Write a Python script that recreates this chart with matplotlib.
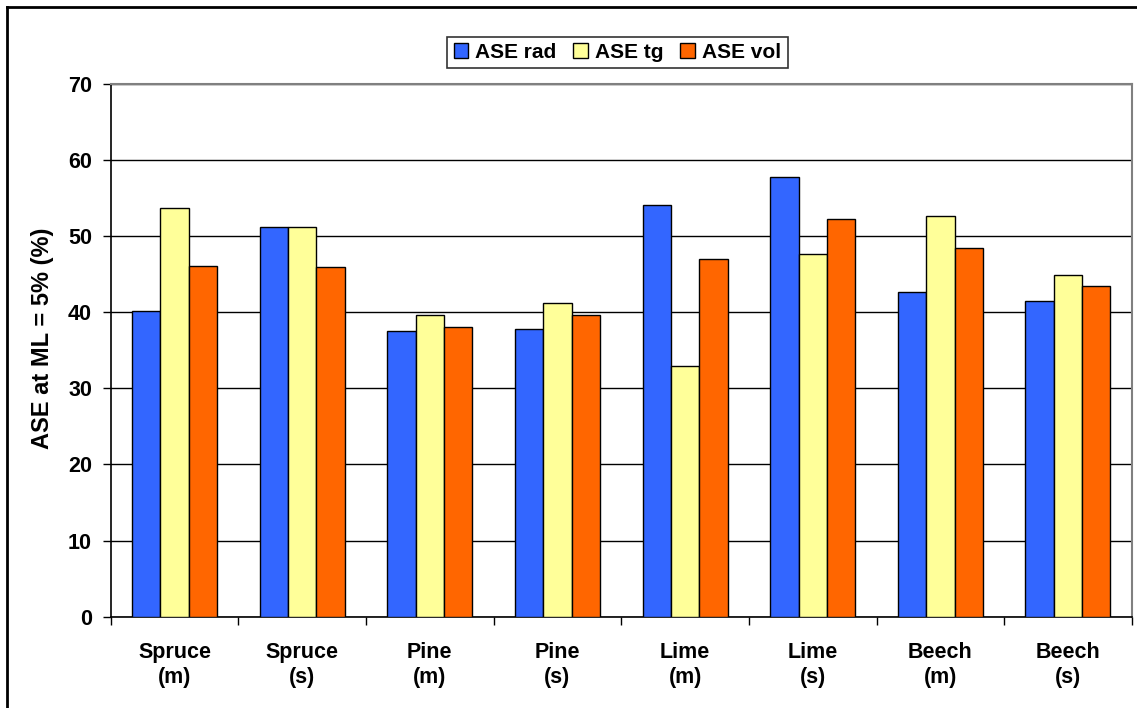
import numpy as np
import matplotlib
matplotlib.use("Agg")
import matplotlib.pyplot as plt
from matplotlib.lines import Line2D

plt.rcParams['font.family'] = ['Liberation Sans', 'DejaVu Sans']
plt.rcParams['font.weight'] = 'bold'

categories = ["Spruce\n(m)", "Spruce\n(s)", "Pine\n(m)", "Pine\n(s)",
              "Lime\n(m)", "Lime\n(s)", "Beech\n(m)", "Beech\n(s)"]
ase_rad = [40.2, 51.2, 37.5, 37.8, 54.1, 57.7, 42.7, 41.4]
ase_tg = [53.7, 51.2, 39.6, 41.2, 32.9, 47.6, 52.6, 44.9]
ase_vol = [46.1, 45.9, 38.0, 39.6, 47.0, 52.2, 48.4, 43.4]

series = [("ASE rad", ase_rad, "#3366FF"),
          ("ASE tg", ase_tg, "#FFFF99"),
          ("ASE vol", ase_vol, "#FF6600")]

fig = plt.figure(figsize=(11.37, 7.08), dpi=100)
ax = fig.add_axes([0.0974, 0.129, 0.898, 0.7528])

x = np.arange(len(categories))
w = 1 / 4.5
for i, (name, vals, col) in enumerate(series):
    ax.bar(x + (i - 1) * w, vals, width=w, color=col, edgecolor="black",
           linewidth=1.0, label=name, zorder=3)

ax.set_xlim(-0.5, len(categories) - 0.5)
ax.set_ylim(0, 70)
ax.set_yticks(range(0, 71, 10))
ax.yaxis.grid(True, color="black", linewidth=1.0, zorder=0)
ax.tick_params(axis="y", direction="out", length=5.5, width=1, pad=8,
               labelsize=15.5)

# category labels centred, tick marks on the boundaries
ax.set_xticks(x)
ax.set_xticklabels(categories, fontsize=15.5, fontweight="bold",
                   linespacing=1.3)
ax.tick_params(axis="x", which="major", length=0, pad=18)
ax.set_xticks(np.arange(-0.5, len(categories)), minor=True)
ax.tick_params(axis="x", which="minor", direction="out", length=5.5, width=1)

for s in ("left", "bottom"):
    ax.spines[s].set_color("black")
    ax.spines[s].set_linewidth(1.2)
for s in ("top", "right"):
    ax.spines[s].set_color("#808080")
    ax.spines[s].set_linewidth(1.5)

fig.text(43 / 1137, 1 - 338 / 708, "ASE at ML = 5% (%)", rotation=90,
         ha="center", va="center", fontsize=17, fontweight="bold")

leg = ax.legend(loc="center", bbox_to_anchor=(617.5 / 1137, 1 - 52.5 / 708),
                bbox_transform=fig.transFigure, ncol=3, frameon=True,
                fancybox=False, edgecolor="black", fontsize=15,
                handlelength=0.7, handleheight=0.7, handletextpad=0.35,
                columnspacing=0.8, borderpad=0.3, borderaxespad=0)
leg.get_frame().set_linewidth(1.2)

# chart area border (left and top edges)
fig.add_artist(Line2D([7 / 1137, 7 / 1137], [0, 1 - 7 / 708],
                      transform=fig.transFigure, color="black", linewidth=2))
fig.add_artist(Line2D([7 / 1137, 1], [1 - 7 / 708, 1 - 7 / 708],
                      transform=fig.transFigure, color="black", linewidth=2))

fig.savefig("out.png", dpi=100)
